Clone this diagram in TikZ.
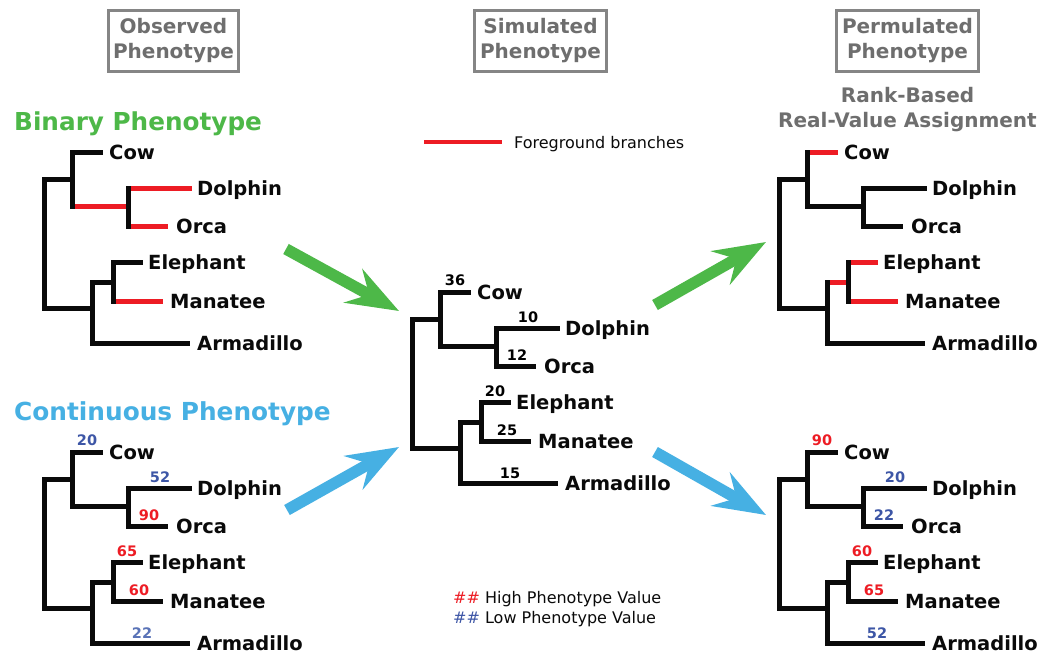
\documentclass[tikz,border=0pt]{standalone}
\usepackage{fontspec}
\setmainfont{DejaVu Sans}
\usetikzlibrary{arrows.meta}
\definecolor{fgred}{HTML}{ED1C24}
\definecolor{agreen}{HTML}{4DB848}
\definecolor{ablue}{HTML}{46B0E3}
\definecolor{lowblue}{HTML}{3D56A6}
\definecolor{lowblue2}{HTML}{5A73B7}
\definecolor{hdrgray}{HTML}{6E6E6E}
\definecolor{boxgray}{HTML}{858585}
\definecolor{ink}{HTML}{0A0A0A}
\newcommand{\hi}[1]{\textcolor{fgred}{#1}}
\newcommand{\lo}[1]{\textcolor{lowblue}{#1}}
\tikzset{
  hz/.style={line width=5pt, line cap=butt, draw=ink},
  vt/.style={line width=5pt, line cap=rect, draw=ink},
  fg/.style={draw=fgred},
  lbl/.style={anchor=base west, inner sep=0pt, font=\fontsize{19.5}{22}\selectfont\bfseries, text=ink},
  num/.style={inner sep=0pt, font=\fontsize{14.5}{16}\selectfont\bfseries},
  hdrbox/.style={draw=boxgray, line width=3pt, minimum height=61pt, inner sep=0pt, align=center, text=hdrgray, font=\fontsize{20}{25}\selectfont\bfseries},
  bigarrow/.style={line width=11.5pt, -{Stealth[length=52pt,width=38pt,inset=18pt]}},
  legtext/.style={anchor=base west, inner sep=0pt, font=\fontsize{16}{20}\selectfont, text=ink},
  hcow/.style={}, hdol/.style={}, horc/.style={}, hdo/.style={},
  hele/.style={}, hman/.style={}, hem/.style={},
  pics/phylo/.style n args={6}{code={
    % horizontal branches
    \draw[hz] (44,179) -- (72,179);
    \draw[hz,hdo] (72,206) -- (128,206);
    \draw[hz,hcow] (72,152) -- (103,152);
    \draw[hz,hdol] (128,188) -- (192,188);
    \draw[hz,horc] (128,226) -- (168,226);
    \draw[hz] (44,308) -- (92,308);
    \draw[hz,hem] (92,282) -- (113,282);
    \draw[hz,hele] (113,262) -- (143,262);
    \draw[hz,hman] (113,301) -- (163,301);
    \draw[hz] (92,343) -- (190,343);
    % vertical connectors
    \draw[vt] (44,179) -- (44,308);
    \draw[vt] (72,152) -- (72,206);
    \draw[vt] (128,188) -- (128,226);
    \draw[vt] (92,282) -- (92,343);
    \draw[vt] (113,262) -- (113,301);
    % leaf labels
    \node[lbl] (-cow) at (109,159) {Cow};
    \node[lbl] (-dol) at (197,195) {Dolphin};
    \node[lbl] (-orc) at (176,233) {Orca};
    \node[lbl] (-ele) at (148,269) {Elephant};
    \node[lbl] (-man) at (170,308) {Manatee};
    \node[lbl] (-arm) at (197,350) {Armadillo};
    % branch values
    \node[num] (-ncow) at (87,140) {#1};
    \node[num] (-ndol) at (160,177) {#2};
    \node[num] (-norc) at (149,215) {#3};
    \node[num] (-nele) at (127,251) {#4};
    \node[num] (-nman) at (139,290) {#5};
    \node[num] (-narm) at (142,333) {#6};
  }}
}
\begin{document}
\begin{tikzpicture}[x=1pt,y=-1pt]
\useasboundingbox (0,0) rectangle (1042,656);
\fill[white] (0,0) rectangle (1042,656);

% column headers
\node[hdrbox, minimum width=130pt] (hobs) at (173.5,41) {Observed\\Phenotype};
\node[hdrbox, minimum width=132pt] (hsim) at (540.5,41) {Simulated\\Phenotype};
\node[hdrbox, minimum width=142pt] (hper) at (907.5,41) {Permulated\\Phenotype};
\node[inner sep=0pt, align=center, text=hdrgray, font=\fontsize{20}{25}\selectfont\bfseries] (rank) at (907.5,110) {Rank-Based\\Real-Value Assignment};

% section titles
\node[anchor=base west, inner sep=0pt, text=agreen, font=\fontsize{24.7}{28}\selectfont\bfseries] (tbin) at (14,130) {Binary Phenotype};
\node[anchor=base west, inner sep=0pt, text=ablue, font=\fontsize{24.8}{28}\selectfont\bfseries] (tcon) at (14,420) {Continuous Phenotype};

% legend: foreground branches
\coordinate (lega) at (424,142);
\coordinate (legb) at (502,142);
\draw[line width=4.5pt, draw=fgred] (lega) -- (legb);
\node[legtext] (legfg) at (514,148) {Foreground branches};

% legend: values
\node[legtext] (leghi) at (453,603) {\textcolor{fgred}{\#\#} High Phenotype Value};
\node[legtext] (leglo) at (453,623) {\textcolor{lowblue}{\#\#} Low Phenotype Value};

% trees
\pic[hdo/.style=fg, hdol/.style=fg, horc/.style=fg, hman/.style=fg] (bin) at (0,0) {phylo={}{}{}{}{}{}};
\pic (con) at (0,300) {phylo={\lo{20}}{\lo{52}}{\hi{90}}{\hi{65}}{\hi{60}}{\textcolor{lowblue2}{22}}};
\pic (sim) at (368,140) {phylo={36}{10}{12}{20}{25}{15}};
\pic[hcow/.style=fg, hem/.style=fg, hele/.style=fg, hman/.style=fg] (pbin) at (735,0) {phylo={}{}{}{}{}{}};
\pic (pcon) at (735,300) {phylo={\hi{90}}{\lo{20}}{\lo{22}}{\hi{60}}{\hi{65}}{\lo{52}}};

% arrows
\coordinate (g1s) at (286,249);
\coordinate (g1e) at (399,311);
\coordinate (b1s) at (287,510);
\coordinate (b1e) at (399,447);
\coordinate (g2s) at (655,305);
\coordinate (g2e) at (766,242);
\coordinate (b2s) at (655,452);
\coordinate (b2e) at (766,515);
\draw[bigarrow, draw=agreen, fill=agreen] (g1s) -- (g1e);
\draw[bigarrow, draw=ablue, fill=ablue] (b1s) -- (b1e);
\draw[bigarrow, draw=agreen, fill=agreen] (g2s) -- (g2e);
\draw[bigarrow, draw=ablue, fill=ablue] (b2s) -- (b2e);
\end{tikzpicture}
\end{document}
